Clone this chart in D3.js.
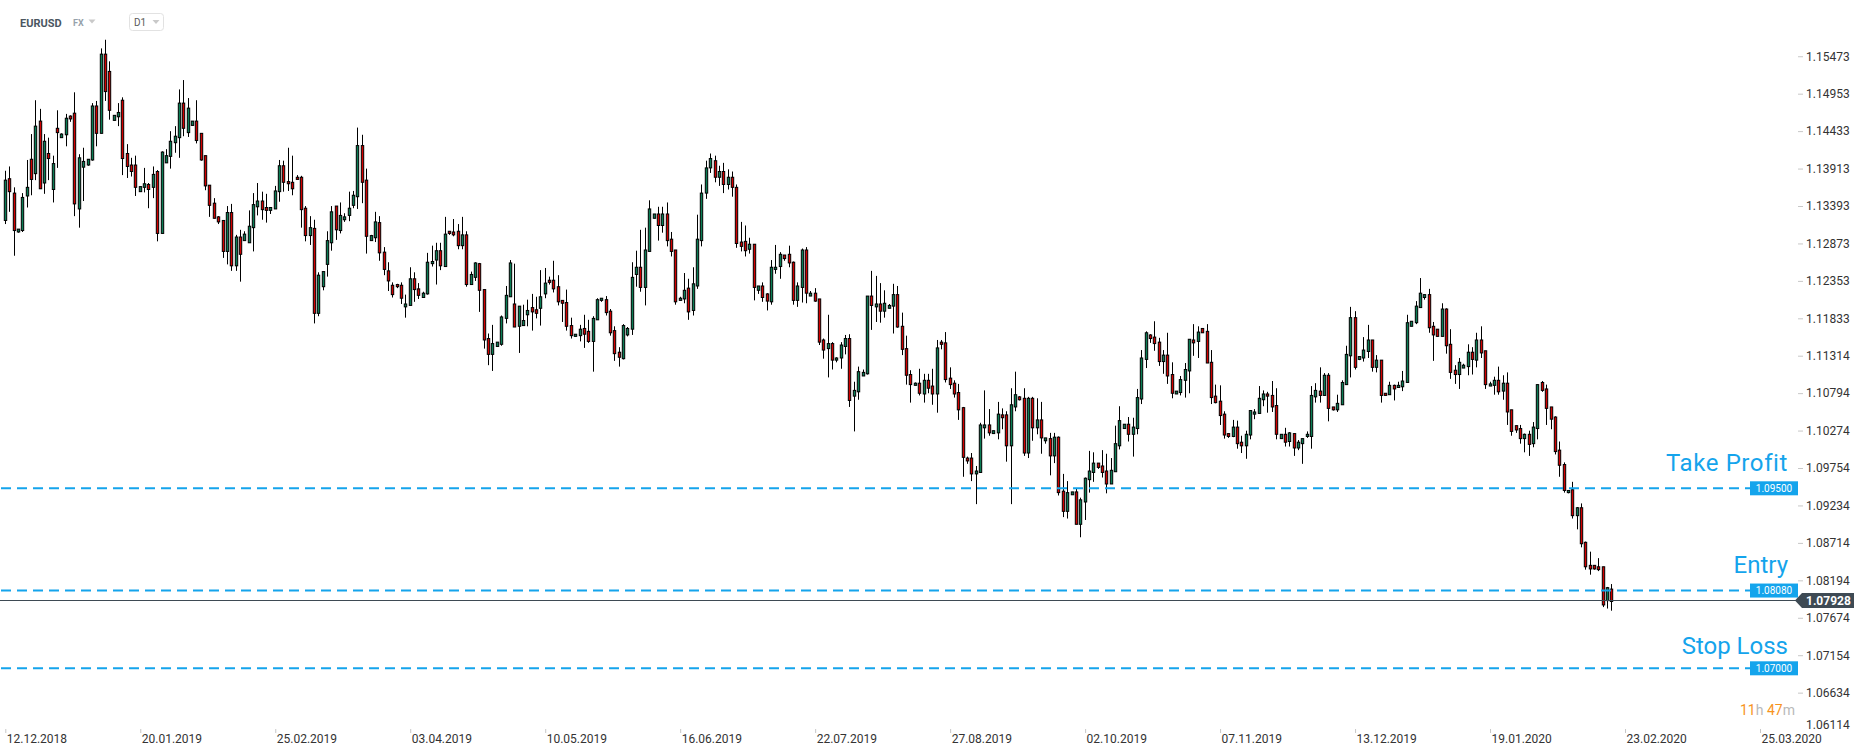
<!DOCTYPE html>
<html>
<head>
<meta charset="utf-8">
<script src="https://cdnjs.cloudflare.com/ajax/libs/d3/7.8.5/d3.min.js"></script>
<style>
body { margin: 0; background: #fff; }
svg { display: block; font-family: Roboto, "Noto Sans", sans-serif; }
</style>
</head>
<body>
<svg id="chart"></svg>
<script>
var width = 1866;
var height = 756;

// daily EURUSD candles
var opens = [
1.1322,1.1380,1.1360,1.1306,1.1308,1.1356,1.1407,1.1387,1.1460,1.1374,
1.1415,1.1365,1.1450,1.1437,1.1441,1.1467,1.1471,1.1338,1.1396,1.1399,
1.1406,1.1481,1.1443,1.1553,1.1529,1.1461,1.1466,1.1489,1.1415,1.1399,
1.1399,1.1362,1.1368,1.1372,1.1368,1.1390,1.1304,1.1402,1.1411,1.1430,
1.1437,1.1485,1.1444,1.1454,1.1460,1.1443,1.1412,1.1371,1.1346,1.1327,
1.1322,1.1279,1.1333,1.1259,1.1299,1.1294,1.1291,1.1312,1.1341,1.1349,
1.1340,1.1336,1.1338,1.1362,1.1398,1.1376,1.1375,1.1382,1.1382,1.1339,
1.1301,1.1311,1.1193,1.1230,1.1261,1.1291,1.1342,1.1308,1.1323,1.1329,
1.1343,1.1355,1.1426,1.1378,1.1294,1.1298,1.1319,1.1278,1.1252,1.1232,
1.1233,1.1232,1.1202,1.1204,1.1241,1.1227,1.1215,1.1220,1.1262,1.1267,
1.1280,1.1258,1.1307,1.1306,1.1307,1.1287,1.1302,1.1233,1.1243,1.1262,
1.1226,1.1158,1.1136,1.1147,1.1150,1.1186,1.1216,1.1206,1.1175,1.1176,
1.1191,1.1201,1.1198,1.1200,1.1220,1.1239,1.1239,1.1230,1.1211,1.1208,
1.1176,1.1161,1.1162,1.1172,1.1168,1.1154,1.1184,1.1211,1.1212,1.1196,
1.1169,1.1139,1.1130,1.1163,1.1171,1.1247,1.1257,1.1229,1.1279,1.1325,
1.1331,1.1315,1.1331,1.1296,1.1281,1.1211,1.1213,1.1228,1.1197,1.1231,
1.1294,1.1360,1.1395,1.1405,1.1382,1.1390,1.1372,1.1382,1.1368,1.1292,
1.1293,1.1282,1.1289,1.1225,1.1231,1.1220,1.1209,1.1254,1.1258,1.1274,
1.1275,1.1264,1.1211,1.1229,1.1281,1.1217,1.1221,1.1213,1.1156,1.1144,
1.1151,1.1128,1.1131,1.1147,1.1158,1.1078,1.1084,1.1106,1.1109,1.1217,
1.1202,1.1206,1.1196,1.1200,1.1203,1.1219,1.1175,1.1144,1.1108,1.1093,
1.1096,1.1081,1.1100,1.1092,1.1081,1.1153,1.1152,1.1103,1.1096,1.1083,
1.1062,1.0992,1.0992,1.0970,1.0972,1.1034,1.1038,1.1026,1.1027,1.1052,
1.1052,1.1009,1.1063,1.1077,1.1075,1.0999,1.1075,1.1034,1.1045,1.1016,
1.1019,1.0995,1.1021,1.0946,1.0918,1.0941,1.0945,1.0900,1.0931,1.0962,
1.0972,1.0985,1.0981,1.0974,1.0956,1.0973,1.1009,1.1033,1.1039,1.1025,
1.1033,1.1074,1.1129,1.1163,1.1160,1.1153,1.1126,1.1135,1.1108,1.1081,
1.1083,1.1100,1.1113,1.1156,1.1154,1.1172,1.1168,1.1125,1.1078,1.1071,
1.1053,1.1026,1.1022,1.1035,1.1014,1.1009,1.1024,1.1053,1.1054,1.1073,
1.1081,1.1079,1.1065,1.1019,1.1025,1.1015,1.1026,1.1006,1.1012,1.1022,
1.1022,1.1077,1.1085,1.1079,1.1107,1.1063,1.1059,1.1066,1.1094,1.1134,
1.1187,1.1129,1.1131,1.1140,1.1156,1.1118,1.1128,1.1082,1.1080,1.1093,
1.1090,1.1091,1.1097,1.1175,1.1180,1.1201,1.1215,1.1219,1.1175,1.1171,
1.1161,1.1199,1.1150,1.1114,1.1108,1.1117,1.1119,1.1139,1.1128,1.1156,
1.1141,1.1092,1.1093,1.1100,1.1085,1.1096,1.1059,1.1037,1.1033,1.1019,
1.1025,1.1012,1.1033,1.1097,1.1088,1.1063,1.1049,1.1003,1.0983,1.0944,
1.0948,1.0912,1.0923,1.0875,1.0843,1.0843,1.0841,1.0841,1.0794,1.0810];

var highs = [
1.1391,1.1397,1.1368,1.1310,1.1360,1.1406,1.1442,1.1489,1.1477,1.1442,
1.1437,1.1412,1.1475,1.1443,1.1470,1.1468,1.1500,1.1414,1.1423,1.1407,
1.1485,1.1488,1.1561,1.1573,1.1543,1.1468,1.1485,1.1493,1.1428,1.1409,
1.1412,1.1369,1.1395,1.1374,1.1397,1.1392,1.1418,1.1421,1.1446,1.1453,
1.1504,1.1517,1.1492,1.1460,1.1489,1.1443,1.1412,1.1371,1.1353,1.1328,
1.1322,1.1342,1.1345,1.1302,1.1309,1.1307,1.1336,1.1360,1.1374,1.1362,
1.1359,1.1340,1.1370,1.1406,1.1405,1.1423,1.1412,1.1385,1.1384,1.1342,
1.1328,1.1323,1.1250,1.1251,1.1307,1.1342,1.1342,1.1347,1.1332,1.1362,
1.1363,1.1451,1.1441,1.1394,1.1302,1.1334,1.1328,1.1285,1.1264,1.1236,
1.1234,1.1236,1.1219,1.1257,1.1250,1.1235,1.1223,1.1277,1.1287,1.1291,
1.1291,1.1327,1.1307,1.1324,1.1317,1.1327,1.1307,1.1251,1.1264,1.1263,
1.1226,1.1165,1.1177,1.1153,1.1190,1.1231,1.1267,1.1262,1.1203,1.1205,
1.1212,1.1220,1.1216,1.1253,1.1256,1.1244,1.1266,1.1246,1.1211,1.1226,
1.1187,1.1164,1.1177,1.1191,1.1184,1.1189,1.1214,1.1214,1.1217,1.1199,
1.1175,1.1146,1.1178,1.1174,1.1264,1.1280,1.1309,1.1312,1.1350,1.1331,
1.1341,1.1341,1.1347,1.1306,1.1281,1.1216,1.1249,1.1241,1.1257,1.1330,
1.1372,1.1405,1.1415,1.1412,1.1398,1.1402,1.1393,1.1390,1.1372,1.1320,
1.1315,1.1298,1.1289,1.1231,1.1236,1.1221,1.1267,1.1288,1.1278,1.1274,
1.1287,1.1265,1.1236,1.1283,1.1285,1.1224,1.1228,1.1213,1.1158,1.1191,
1.1153,1.1132,1.1153,1.1163,1.1164,1.1098,1.1119,1.1115,1.1217,1.1252,
1.1245,1.1235,1.1225,1.1206,1.1234,1.1231,1.1194,1.1162,1.1114,1.1097,
1.1116,1.1109,1.1109,1.1116,1.1156,1.1156,1.1167,1.1118,1.1100,1.1095,
1.1063,1.0994,1.0999,1.0981,1.1041,1.1086,1.1060,1.1030,1.1070,1.1061,
1.1057,1.1089,1.1112,1.1078,1.1089,1.1077,1.1077,1.1075,1.1070,1.1020,
1.1027,1.1027,1.1022,1.0970,1.0960,1.0945,1.0949,1.0937,1.0965,1.1002,
1.1000,1.0985,1.1003,1.0998,1.0992,1.1037,1.1064,1.1039,1.1049,1.1048,
1.1088,1.1142,1.1168,1.1164,1.1182,1.1159,1.1142,1.1166,1.1125,1.1085,
1.1106,1.1124,1.1157,1.1178,1.1175,1.1172,1.1178,1.1142,1.1094,1.1093,
1.1057,1.1026,1.1045,1.1044,1.1023,1.1030,1.1058,1.1060,1.1092,1.1086,
1.1084,1.1099,1.1089,1.1025,1.1034,1.1028,1.1026,1.1017,1.1019,1.1029,
1.1092,1.1096,1.1118,1.1110,1.1110,1.1063,1.1080,1.1100,1.1148,1.1202,
1.1196,1.1133,1.1160,1.1177,1.1156,1.1135,1.1128,1.1082,1.1098,1.1094,
1.1098,1.1113,1.1191,1.1182,1.1210,1.1242,1.1219,1.1227,1.1181,1.1171,
1.1207,1.1200,1.1171,1.1121,1.1131,1.1123,1.1150,1.1146,1.1166,1.1175,
1.1141,1.1098,1.1105,1.1119,1.1107,1.1111,1.1059,1.1037,1.1038,1.1026,
1.1030,1.1042,1.1094,1.1099,1.1094,1.1063,1.1050,1.1015,1.0986,1.0947,
1.0959,1.0924,1.0929,1.0876,1.0862,1.0843,1.0853,1.0841,1.0813,1.0817];

var lows = [
1.1317,1.1334,1.1273,1.1305,1.1306,1.1340,1.1357,1.1378,1.1366,1.1359,
1.1378,1.1347,1.1395,1.1437,1.1425,1.1459,1.1328,1.1312,1.1349,1.1398,
1.1405,1.1425,1.1443,1.1488,1.1462,1.1461,1.1453,1.1385,1.1381,1.1383,
1.1356,1.1362,1.1361,1.1339,1.1353,1.1293,1.1304,1.1402,1.1394,1.1416,
1.1409,1.1439,1.1438,1.1454,1.1429,1.1405,1.1364,1.1327,1.1325,1.1317,
1.1270,1.1261,1.1252,1.1252,1.1237,1.1294,1.1291,1.1279,1.1329,1.1323,
1.1319,1.1331,1.1338,1.1348,1.1362,1.1363,1.1357,1.1379,1.1312,1.1293,
1.1288,1.1179,1.1189,1.1225,1.1244,1.1280,1.1295,1.1304,1.1320,1.1321,
1.1339,1.1338,1.1346,1.1276,1.1294,1.1292,1.1266,1.1246,1.1224,1.1215,
1.1228,1.1206,1.1187,1.1204,1.1209,1.1213,1.1215,1.1219,1.1258,1.1233,
1.1253,1.1258,1.1302,1.1300,1.1282,1.1282,1.1230,1.1233,1.1238,1.1195,
1.1144,1.1121,1.1113,1.1147,1.1148,1.1179,1.1216,1.1174,1.1138,1.1176,
1.1175,1.1169,1.1186,1.1176,1.1214,1.1233,1.1222,1.1204,1.1181,1.1169,
1.1158,1.1161,1.1154,1.1145,1.1152,1.1112,1.1184,1.1209,1.1190,1.1162,
1.1127,1.1119,1.1129,1.1161,1.1163,1.1230,1.1223,1.1204,1.1279,1.1325,
1.1294,1.1305,1.1286,1.1272,1.1205,1.1211,1.1207,1.1184,1.1190,1.1227,
1.1286,1.1352,1.1388,1.1375,1.1370,1.1360,1.1365,1.1355,1.1284,1.1279,
1.1272,1.1276,1.1211,1.1220,1.1209,1.1197,1.1205,1.1248,1.1241,1.1266,
1.1257,1.1205,1.1202,1.1208,1.1207,1.1217,1.1209,1.1149,1.1130,1.1104,
1.1115,1.1125,1.1116,1.1136,1.1063,1.1029,1.1073,1.1106,1.1108,1.1170,
1.1181,1.1180,1.1187,1.1200,1.1165,1.1173,1.1135,1.1094,1.1069,1.1093,
1.1079,1.1069,1.1082,1.1066,1.1055,1.1143,1.1097,1.1088,1.1076,1.1045,
1.0966,1.0984,1.0960,1.0928,1.0972,1.1019,1.1023,1.1026,1.1018,1.1032,
1.0987,1.0928,1.1057,1.1072,1.0995,1.0992,1.1016,1.1025,1.0998,1.1012,
1.0968,1.0985,1.0940,1.0910,1.0908,1.0941,1.0900,1.0882,1.0906,1.0944,
1.0959,1.0977,1.0965,1.0943,1.0956,1.0973,1.1004,1.1033,1.1015,1.0994,
1.1025,1.1067,1.1117,1.1152,1.1141,1.1120,1.1109,1.1095,1.1075,1.1081,
1.1079,1.1076,1.1082,1.1134,1.1131,1.1166,1.1124,1.1067,1.1068,1.1038,
1.1019,1.1020,1.1021,1.1005,1.0999,1.0991,1.1018,1.1046,1.1054,1.1064,
1.1055,1.1056,1.1018,1.1019,1.1008,1.1008,1.0995,1.1003,1.0984,1.1020,
1.1005,1.1069,1.1069,1.1079,1.1043,1.1058,1.1056,1.1066,1.1094,1.1104,
1.1115,1.1128,1.1126,1.1131,1.1112,1.1111,1.1069,1.1079,1.1080,1.1072,
1.1090,1.1085,1.1097,1.1175,1.1178,1.1201,1.1212,1.1166,1.1127,1.1161,
1.1161,1.1137,1.1102,1.1095,1.1088,1.1117,1.1107,1.1108,1.1118,1.1131,
1.1088,1.1092,1.1080,1.1080,1.1073,1.1038,1.1023,1.1027,1.1012,1.1000,
1.0995,1.1007,1.1018,1.1084,1.1038,1.1032,1.0997,1.0966,1.0944,1.0943,
1.0908,1.0893,1.0868,1.0837,1.0830,1.0837,1.0835,1.0785,1.0783,1.0780];

var closes = [
1.1378,1.1362,1.1308,1.1310,1.1354,1.1368,1.1379,1.1453,1.1366,1.1432,
1.1408,1.1401,1.1444,1.1442,1.1464,1.1463,1.1345,1.1409,1.1404,1.1407,
1.1481,1.1443,1.1553,1.1501,1.1475,1.1468,1.1472,1.1408,1.1397,1.1390,
1.1368,1.1369,1.1373,1.1365,1.1386,1.1304,1.1417,1.1412,1.1432,1.1439,
1.1485,1.1450,1.1478,1.1460,1.1433,1.1406,1.1370,1.1343,1.1325,1.1320,
1.1279,1.1333,1.1259,1.1299,1.1275,1.1303,1.1314,1.1344,1.1349,1.1337,
1.1336,1.1340,1.1363,1.1398,1.1375,1.1373,1.1366,1.1379,1.1337,1.1301,
1.1312,1.1193,1.1246,1.1251,1.1294,1.1334,1.1309,1.1329,1.1327,1.1339,
1.1357,1.1426,1.1375,1.1300,1.1301,1.1320,1.1277,1.1254,1.1238,1.1219,
1.1230,1.1214,1.1206,1.1241,1.1226,1.1218,1.1221,1.1264,1.1265,1.1280,
1.1259,1.1303,1.1304,1.1302,1.1287,1.1302,1.1233,1.1247,1.1263,1.1225,
1.1156,1.1136,1.1151,1.1153,1.1188,1.1218,1.1263,1.1174,1.1203,1.1183,
1.1197,1.1195,1.1193,1.1216,1.1235,1.1236,1.1227,1.1209,1.1207,1.1175,
1.1162,1.1164,1.1171,1.1164,1.1154,1.1186,1.1212,1.1214,1.1194,1.1166,
1.1137,1.1132,1.1176,1.1172,1.1243,1.1257,1.1229,1.1281,1.1338,1.1331,
1.1315,1.1331,1.1294,1.1279,1.1209,1.1214,1.1225,1.1195,1.1234,1.1296,
1.1360,1.1395,1.1408,1.1382,1.1390,1.1372,1.1382,1.1368,1.1290,1.1286,
1.1280,1.1289,1.1229,1.1231,1.1215,1.1210,1.1257,1.1257,1.1275,1.1269,
1.1263,1.1211,1.1231,1.1281,1.1221,1.1221,1.1210,1.1153,1.1142,1.1151,
1.1128,1.1131,1.1149,1.1158,1.1072,1.1086,1.1112,1.1111,1.1217,1.1204,
1.1206,1.1196,1.1207,1.1204,1.1219,1.1174,1.1143,1.1107,1.1094,1.1096,
1.1082,1.1100,1.1089,1.1081,1.1145,1.1150,1.1101,1.1094,1.1081,1.1059,
1.0993,1.0988,1.0970,1.0974,1.1038,1.1038,1.1027,1.1030,1.1053,1.1048,
1.1009,1.1066,1.1080,1.1073,1.0999,1.1075,1.1034,1.1045,1.1020,1.1020,
1.0995,1.1021,1.0944,1.0918,1.0944,1.0945,1.0900,1.0934,1.0964,1.0974,
1.0985,1.0979,1.0972,1.0956,1.0975,1.1012,1.1044,1.1039,1.1025,1.1035,
1.1076,1.1131,1.1166,1.1158,1.1151,1.1126,1.1135,1.1106,1.1082,1.1085,
1.1101,1.1115,1.1157,1.1152,1.1167,1.1166,1.1124,1.1076,1.1069,1.1051,
1.1024,1.1022,1.1035,1.1012,1.1009,1.1025,1.1058,1.1056,1.1075,1.1081,
1.1078,1.1063,1.1025,1.1025,1.1014,1.1027,1.1006,1.1014,1.1019,1.1025,
1.1079,1.1086,1.1079,1.1107,1.1061,1.1059,1.1068,1.1097,1.1136,1.1187,
1.1118,1.1133,1.1142,1.1156,1.1118,1.1128,1.1079,1.1079,1.1093,1.1088,
1.1093,1.1099,1.1180,1.1182,1.1203,1.1221,1.1219,1.1173,1.1163,1.1161,
1.1199,1.1148,1.1111,1.1108,1.1125,1.1121,1.1139,1.1129,1.1156,1.1138,
1.1094,1.1095,1.1100,1.1084,1.1096,1.1056,1.1029,1.1031,1.1019,1.1025,
1.1011,1.1035,1.1094,1.1086,1.1061,1.1046,1.1001,1.0982,1.0947,1.0947,
1.0912,1.0923,1.0873,1.0841,1.0838,1.0838,1.0837,1.0788,1.0812,1.07928];

var dateLabels = ["12.12.2018", "20.01.2019", "25.02.2019", "03.04.2019", "10.05.2019",
    "16.06.2019", "22.07.2019", "27.08.2019", "02.10.2019", "07.11.2019",
    "13.12.2019", "19.01.2020", "23.02.2020", "25.03.2020"];
var barsPerLabel = 31; // a date label every 31 bars

var priceTicks = [1.15473, 1.14953, 1.14433, 1.13913, 1.13393, 1.12873, 1.12353, 1.11833,
    1.11314, 1.10794, 1.10274, 1.09754, 1.09234, 1.08714, 1.08194, 1.07674, 1.07154,
    1.06634, 1.06114];

var levelNames = ["Take Profit", "Entry", "Stop Loss"];
var levelValues = [1.09500, 1.08080, 1.07000];
var lastPrice = 1.07928;
var timerParts = ["11", "h ", "47", "m"];

var blue = "#14a4ec";
var upColor = "#0b7d55";
var downColor = "#d20000";

var svg = d3.select("#chart")
    .attr("width", width)
    .attr("height", height);

svg.append("rect").attr("width", width).attr("height", height).attr("fill", "#fff");

// bar index -> pixel, price -> pixel
var x = d3.scaleLinear().domain([0, 403]).range([5.3, 1760]);
var y = d3.scaleLinear().domain([1.07, 1.095]).range([668.3, 488.3]);

// header
svg.append("text").attr("x", 20).attr("y", 26.5)
    .attr("font-size", 11).attr("font-weight", "bold").attr("fill", "#4b5661")
    .text("EURUSD");
svg.append("text").attr("x", 73).attr("y", 26)
    .attr("font-size", 9).attr("font-weight", "bold").attr("fill", "#97a2ab")
    .text("FX");
svg.append("path").attr("d", "M88.5,19.5 L95.5,19.5 L92,23.5 Z").attr("fill", "#c9c9c9");
svg.append("rect").attr("x", 129.5).attr("y", 13.5).attr("width", 34).attr("height", 17)
    .attr("rx", 3).attr("fill", "#fff").attr("stroke", "#e2e2e2");
svg.append("text").attr("x", 134).attr("y", 26)
    .attr("font-size", 10).attr("fill", "#5a5a5a")
    .text("D1");
svg.append("path").attr("d", "M152.5,20 L159.5,20 L156,24 Z").attr("fill", "#c9c9c9");

// candles
var candle = svg.append("g").selectAll("g")
    .data(closes)
    .enter().append("g");

function cx(i) { return Math.round(x(i) - 0.5) + 0.5; }

candle.append("line")
    .attr("x1", function(d, i) { return cx(i); })
    .attr("x2", function(d, i) { return cx(i); })
    .attr("y1", function(d, i) { return y(highs[i]); })
    .attr("y2", function(d, i) { return y(lows[i]); })
    .attr("stroke", "#000")
    .attr("stroke-width", 1);

candle.append("rect")
    .attr("x", function(d, i) { return cx(i) - 1.2; })
    .attr("width", 2.4)
    .attr("y", function(d, i) { return y(Math.max(opens[i], d)); })
    .attr("height", function(d, i) { return Math.max(1, Math.abs(y(opens[i]) - y(d))); })
    .attr("fill", function(d, i) { return d >= opens[i] ? upColor : downColor; })
    .attr("stroke", "#000")
    .attr("stroke-width", 1);

// trade levels
var level = svg.append("g").selectAll("g")
    .data(levelValues)
    .enter().append("g");

level.append("line")
    .attr("x1", 1).attr("x2", 1750)
    .attr("y1", function(d) { return y(d); })
    .attr("y2", function(d) { return y(d); })
    .attr("stroke", blue)
    .attr("stroke-width", 2)
    .attr("stroke-dasharray", "10,6");

level.append("rect")
    .attr("x", 1750).attr("width", 48)
    .attr("y", function(d) { return y(d) - 7; })
    .attr("height", 14)
    .attr("fill", blue);

level.append("text")
    .attr("x", 1774)
    .attr("y", function(d) { return y(d) + 3.6; })
    .attr("text-anchor", "middle")
    .attr("font-size", 10)
    .attr("fill", "#fff")
    .text(function(d) { return d3.format(".5f")(d); });

var labelDy = [-17.6, -17.6, -14.3];
level.append("text")
    .attr("x", 1788)
    .attr("y", function(d, i) { return y(d) + labelDy[i]; })
    .attr("text-anchor", "end")
    .attr("font-size", 24)
    .attr("letter-spacing", function(d, i) { return i === 0 ? 0.6 : 0; })
    .attr("fill", blue)
    .text(function(d, i) { return levelNames[i]; });

// current price line and tag
var yc = Math.round(y(lastPrice) - 1) + 0.5;
svg.append("line")
    .attr("x1", 0).attr("x2", 1796)
    .attr("y1", yc).attr("y2", yc)
    .attr("stroke", "#3e4a54")
    .attr("stroke-width", 1);
svg.append("path")
    .attr("d", "M1795," + yc + " L1802," + (yc - 7.5) + " L1854," + (yc - 7.5) +
        " L1854," + (yc + 7.5) + " L1802," + (yc + 7.5) + " Z")
    .attr("fill", "#3e4a54");
svg.append("text")
    .attr("x", 1806).attr("y", yc + 4.3)
    .attr("font-size", 12).attr("font-weight", "bold").attr("fill", "#fff")
    .text(d3.format(".5f")(lastPrice));

// price axis
var yAxis = d3.axisRight(y)
    .tickValues(priceTicks)
    .tickSize(5)
    .tickPadding(3)
    .tickFormat(d3.format(".5f"));

var ya = svg.append("g")
    .attr("transform", "translate(1798,-2)")
    .call(yAxis)
    .attr("font-family", null)
    .attr("font-size", 12);
ya.select(".domain").remove();
ya.selectAll(".tick line").attr("stroke", "#c8c8c8");
ya.selectAll(".tick text").attr("fill", "#333");
// the lowest label sits clamped above the time axis, without a tick
ya.selectAll(".tick")
    .filter(function(d) { return d === priceTicks[priceTicks.length - 1]; })
    .attr("transform", "translate(0,727.5)")
    .select("line").remove();

// time axis
var tickIdx = dateLabels.map(function(d, i) { return i * barsPerLabel; });
var xAxis = d3.axisBottom(x)
    .tickValues(tickIdx)
    .tickSize(4)
    .tickFormat(function(d, i) { return dateLabels[i]; });

var xa = svg.append("g")
    .attr("transform", "translate(0,729)")
    .call(xAxis)
    .attr("font-family", null)
    .attr("font-size", 12);
xa.select(".domain").remove();
xa.selectAll(".tick line").attr("stroke", "#c8c8c8");
xa.selectAll(".tick text")
    .attr("text-anchor", "start")
    .attr("x", 1)
    .attr("y", 14.3)
    .attr("dy", 0)
    .attr("fill", "#333");

// candle countdown
var timer = svg.append("text")
    .attr("x", 1740).attr("y", 715)
    .attr("font-size", 14);
timer.selectAll("tspan")
    .data(timerParts)
    .enter().append("tspan")
    .attr("fill", function(d, i) { return i % 2 === 0 ? "#f7941d" : "#b9b9b9"; })
    .text(function(d) { return d; });
</script>
</body>
</html>
